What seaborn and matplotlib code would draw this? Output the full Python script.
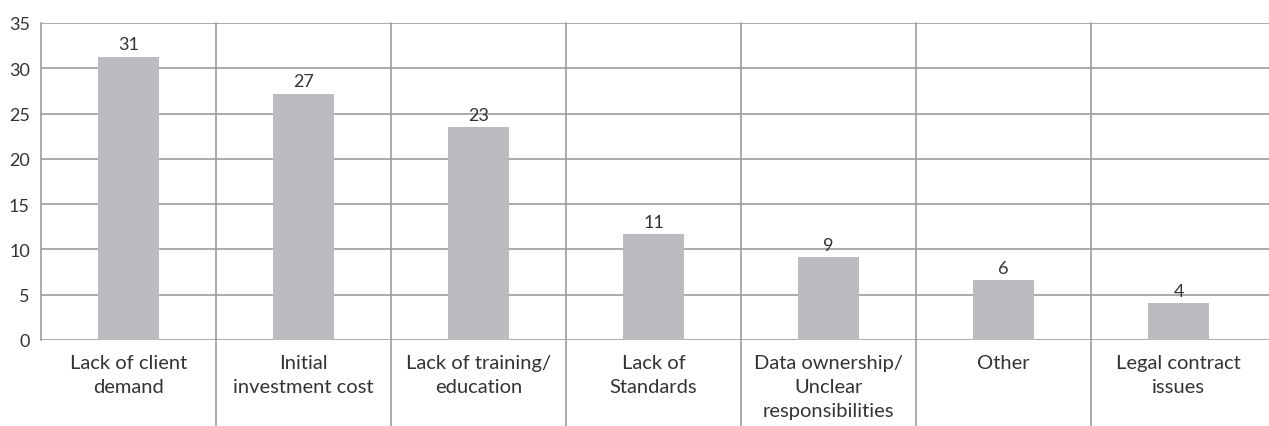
import matplotlib
matplotlib.use("Agg")
import matplotlib.pyplot as plt
import seaborn as sns
import pandas as pd

categories = ["Lack of client\ndemand", "Initial\ninvestment cost", "Lack of training/\neducation",
              "Lack of\nStandards", "Data ownership/\nUnclear\nresponsibilities", "Other",
              "Legal contract\nissues"]
values = [31.3, 27.2, 23.5, 11.7, 9.2, 6.6, 4.1]
value_labels = ["31", "27", "23", "11", "9", "6", "4"]
yticks = [0, 5, 10, 15, 20, 25, 30, 35]

sns.set_theme(style="white")
plt.rcParams['font.family'] = ['Lato', 'DejaVu Sans']

df = pd.DataFrame({"cat": categories, "val": values})

fig = plt.figure(figsize=(12.69, 4.27), dpi=100)
ax = fig.add_axes([41/1269, 1 - 341/427, 1228/1269, 317/427])

grid_c = "#9c9c9c"
bar_c = "#bbbcbf"
text_c = "#333333"

for y in yticks:
    ax.axhline(y, color=grid_c, lw=1.2, zorder=0)

sns.barplot(data=df, x="cat", y="val", color=bar_c, width=0.35, ax=ax,
            saturation=1, zorder=2, linewidth=0, edgecolor="none")

n = len(categories)
ax.set_xlim(-0.5, n - 0.5 + 3/175.4)
ax.set_ylim(0, 35)

trans = ax.get_xaxis_transform()
for i in range(1, n):
    ax.plot([i - 0.5, i - 0.5], [-86/317, 1], transform=trans, color=grid_c, lw=1.2,
            clip_on=False, zorder=1)

for sp in ["top", "right", "bottom"]:
    ax.spines[sp].set_visible(False)
ax.spines["left"].set_color(grid_c)
ax.spines["left"].set_linewidth(1.2)

ax.set_yticks(yticks)
ax.set_yticklabels([str(t) for t in yticks], fontsize=13, color=text_c)
ax.tick_params(axis="y", length=0, pad=8)
ax.tick_params(axis="x", length=0, pad=10, labelsize=14.5, labelcolor=text_c)
for lab in ax.get_xticklabels():
    lab.set_linespacing(1.5)
ax.set_xlabel("")
ax.set_ylabel("")

for i, (v, l) in enumerate(zip(values, value_labels)):
    ax.annotate(l, (i, v), xytext=(0, 3), textcoords="offset points",
                ha="center", va="bottom", fontsize=13, color=text_c)

fig.savefig("out.png", dpi=100)
